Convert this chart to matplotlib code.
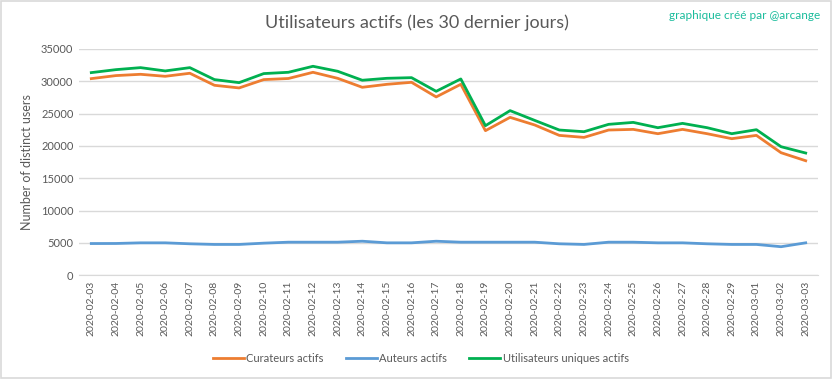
import matplotlib
matplotlib.use("Agg")
import matplotlib.pyplot as plt
from matplotlib.patches import Rectangle

dates = ["2020-02-03", "2020-02-04", "2020-02-05", "2020-02-06", "2020-02-07",
         "2020-02-08", "2020-02-09", "2020-02-10", "2020-02-11", "2020-02-12",
         "2020-02-13", "2020-02-14", "2020-02-15", "2020-02-16", "2020-02-17",
         "2020-02-18", "2020-02-19", "2020-02-20", "2020-02-21", "2020-02-22",
         "2020-02-23", "2020-02-24", "2020-02-25", "2020-02-26", "2020-02-27",
         "2020-02-28", "2020-02-29", "2020-03-01", "2020-03-02", "2020-03-03"]

curateurs = [30400, 30870, 31070, 30760, 31230, 29370, 28960, 30250, 30420, 31380,
             30450, 29060, 29520, 29830, 27570, 29520, 22350, 24410, 23230, 21620,
             21310, 22450, 22550, 21880, 22550, 21880, 21110, 21620, 18940, 17700]

auteurs = [4890, 4900, 5000, 5000, 4850, 4750, 4750, 4950, 5100, 5100,
           5100, 5250, 5000, 5000, 5250, 5100, 5100, 5100, 5100, 4850,
           4750, 5100, 5100, 5000, 5000, 4850, 4750, 4750, 4400, 5000]

uniques = [31330, 31790, 32100, 31590, 32100, 30250, 29780, 31180, 31380, 32310,
           31540, 30150, 30450, 30550, 28440, 30350, 23120, 25450, 23940, 22450,
           22190, 23330, 23630, 22810, 23480, 22810, 21880, 22500, 19870, 18890]

series_names = ["Curateurs actifs", "Auteurs actifs", "Utilisateurs uniques actifs"]
colors = ["#ED7D31", "#5B9BD5", "#00B050"]
yticks = [0, 5000, 10000, 15000, 20000, 25000, 30000, 35000]

plt.rcParams['font.family'] = ['Lato', 'DejaVu Sans']

fig = plt.figure(figsize=(8.33, 3.79), dpi=100)
fig.patches.append(Rectangle((0.001, 0.002), 0.997, 0.995, transform=fig.transFigure,
                             fill=False, edgecolor="#d9d9d9", linewidth=1.2))
ax = fig.add_axes([0.0948, 0.274, 0.8872, 0.597])

x = list(range(len(dates)))
for vals, name, c in zip([curateurs, auteurs, uniques], series_names, colors):
    ax.plot(x, vals, color=c, linewidth=2.0, label=name, solid_joinstyle="round")

ax.set_xlim(-0.5, len(dates) - 0.5)
ax.set_ylim(0, 35000)
ax.set_yticks(yticks)
ax.set_yticklabels([str(v) for v in yticks], fontsize=8, color="#595959")
ax.set_xticks(x)
ax.set_xticklabels(dates, rotation=90, fontsize=7.5, color="#595959")
ax.tick_params(length=0, pad=4)
ax.grid(axis="y", color="#d9d9d9", linewidth=1)
ax.set_axisbelow(True)
for s in ["top", "right", "left"]:
    ax.spines[s].set_visible(False)
ax.spines["bottom"].set_color("#d9d9d9")
ax.set_ylabel("Number of distinct users", fontsize=9, color="#595959", labelpad=6)

fig.text(0.5, 0.94, "Utilisateurs actifs (les 30 dernier jours)", ha="center", va="center",
         fontsize=13, color="#595959")
fig.text(0.985, 0.96, "graphique créé par @arcange", ha="right", va="center",
         fontsize=8.5, color="#1ABC9C")

leg = fig.legend(loc="center", bbox_to_anchor=(0.505, 0.055), ncol=3, frameon=False,
                 fontsize=8, handlelength=2.8, handletextpad=0.2, columnspacing=2.0,
                 labelcolor="#595959")
for h in leg.get_lines():
    h.set_linewidth(2.0)

fig.savefig("out.png", dpi=100)
